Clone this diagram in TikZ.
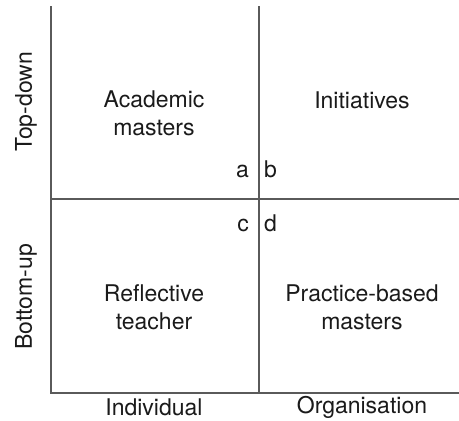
\documentclass[tikz,border=0pt]{standalone}
\usepackage{fontspec}
\setmainfont{TeX Gyre Heros}
\usetikzlibrary{positioning}
\definecolor{axisgray}{HTML}{5A5A5A}
\definecolor{textdark}{HTML}{1A1A1A}
\tikzset{
  axisline/.style={draw=axisgray, line width=1.5pt},
  cell/.style={align=center, text=textdark,
    font=\fontsize{23}{28}\selectfont},
  tag/.style={text=textdark, inner sep=1pt,
    font=\fontsize{23}{28}\selectfont},
  axislabel/.style={text=textdark,
    font=\fontsize{23}{28}\selectfont}
}
\begin{document}
\begin{tikzpicture}[x=1pt, y=-1pt]
    \useasboundingbox (0,0) rectangle (459,421);

    % Axes and quadrant lines
    \coordinate (top) at (51,6);
    \coordinate (origin) at (51,393);
    \coordinate (right) at (459,393);
    \coordinate (midtop) at (259,6);
    \coordinate (midbot) at (259,393);
    \coordinate (midleft) at (51,199);
    \coordinate (midright) at (459,199);
    \draw[axisline] (top) -- (origin) -- (right);
    \draw[axisline] (midtop) -- (midbot);
    \draw[axisline] (midleft) -- (midright);

    % Quadrants
    \node[cell] (academic) at (154,113) {Academic\\masters};
    \node[cell] (initiatives) at (362,100) {Initiatives};
    \node[cell] (reflective) at (154,307) {Reflective\\teacher};
    \node[cell] (practice) at (362,307) {Practice-based\\masters};

    % Corner tags
    \node[tag, anchor=base east] (taga) at (250,177) {a};
    \node[tag, anchor=base west] (tagb) at (263,177) {b};
    \node[tag, anchor=base east] (tagc) at (250,231) {c};
    \node[tag, anchor=base west] (tagd) at (263,231) {d};

    % Axis labels
    \node[axislabel] (individual) at (154,407) {Individual};
    \node[axislabel] (organisation) at (362,407) {Organisation};
    \node[axislabel, rotate=90] (topdown) at (26,102) {Top-down};
    \node[axislabel, rotate=90] (bottomup) at (26,297) {Bottom-up};
\end{tikzpicture}
\end{document}
